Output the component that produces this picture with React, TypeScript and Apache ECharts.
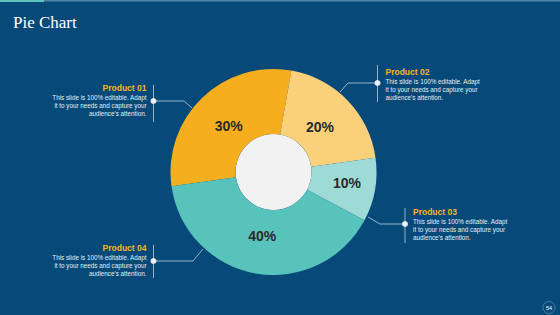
import React, { useEffect, useRef } from "react";
import * as echarts from "echarts";

const products = ["Product 01", "Product 02", "Product 03", "Product 04"];
const shares = [30, 20, 10, 40];
const sliceColors = ["#f5ae1d", "#fbd07b", "#9fdbd6", "#58c3bb"];
const description = "This slide is 100% editable. Adapt\nit to your needs and capture your\naudience's attention.";

const BG = "#074a7a";
const GOLD = "#f3b622";
const LINE = "#b8cfdf";

function annotation(
  title: string,
  side: "left" | "right",
  vx: number,
  vy0: number,
  vy1: number,
  dotY: number,
  titleY: number,
  leader: number[][]
) {
  const align = side === "left" ? "right" : "left";
  const tx = side === "left" ? vx - 7 : vx + 8;
  return [
    { type: "line", shape: { x1: vx, y1: vy0, x2: vx, y2: vy1 }, style: { stroke: LINE, lineWidth: 0.8 } },
    { type: "polyline", shape: { points: leader }, style: { stroke: LINE, lineWidth: 0.8, fill: null } },
    { type: "circle", shape: { cx: vx, cy: dotY, r: 3 }, style: { fill: "#e9eff5" } },
    {
      type: "text",
      x: tx,
      y: titleY,
      style: { text: title, fill: GOLD, font: "bold 8.5px 'Liberation Sans', Arial, sans-serif", align, verticalAlign: "middle" },
    },
    {
      type: "text",
      x: tx,
      y: titleY + 6,
      style: {
        text: description,
        fill: "#e6edf3",
        font: "6.3px 'Liberation Sans', Arial, sans-serif",
        lineHeight: 7.8,
        align,
        verticalAlign: "top",
      },
    },
  ];
}

export default function App() {
  const ref = useRef<HTMLDivElement>(null);
  useEffect(() => {
    if (!ref.current) return;
    const chart = echarts.init(ref.current, null, { renderer: "svg" });
    const cx = 273.5;
    const cy = 172;
    const data = products.map((name, i) => ({ name, value: shares[i], itemStyle: { color: sliceColors[i] } }));
    chart.setOption({
      animation: false,
      backgroundColor: BG,
      graphic: [
        { type: "rect", shape: { x: 0, y: 0, width: 560, height: 1.5 }, style: { fill: "#4f84a8" } },
        { type: "rect", shape: { x: 0, y: 0, width: 44, height: 2 }, style: { fill: "#5fc3c0" } },
        {
          type: "text",
          x: 13,
          y: 22,
          style: { text: "Pie Chart", fill: "#ffffff", font: "17px 'Liberation Serif', 'Times New Roman', serif", verticalAlign: "middle" },
        },
        { type: "circle", shape: { cx, cy, r: 38 }, style: { fill: "#f2f2f2" } },
        ...annotation("Product 01", "left", 153.5, 85, 122, 101, 88, [[153, 101], [184, 101], [192, 108]]),
        ...annotation("Product 02", "right", 377.5, 65, 102, 83, 72, [[378, 83], [348, 83], [340, 92]]),
        ...annotation("Product 03", "right", 405, 208, 243, 224, 212, [[405, 224], [380, 224], [368, 217]]),
        ...annotation("Product 04", "left", 153.5, 245, 278, 261, 248, [[153, 261], [193, 261], [203, 249]]),
        { type: "circle", shape: { cx: 549, cy: 307.5, r: 6 }, style: { fill: "none", stroke: "#5b87a8", lineWidth: 0.8 } },
        {
          type: "text",
          x: 549,
          y: 307.5,
          style: { text: "54", fill: "#ffffff", font: "5.5px 'Liberation Sans', Arial, sans-serif", align: "center", verticalAlign: "middle" },
        },
      ],
      series: [
        {
          type: "pie",
          center: [cx, cy],
          radius: [38, 103],
          startAngle: 188,
          clockwise: true,
          label: { show: false },
          labelLine: { show: false },
          itemStyle: { borderWidth: 0 },
          emphasis: { disabled: true },
          data,
        },
        {
          type: "pie",
          center: [cx, cy],
          radius: [28, 95],
          startAngle: 188,
          clockwise: true,
          silent: true,
          z: 5,
          label: {
            show: true,
            position: "inside",
            formatter: "{c}%",
            color: "#2a2a2a",
            fontSize: 14,
            fontWeight: "bold",
            fontFamily: "'Liberation Sans', Arial, sans-serif",
          },
          labelLine: { show: false },
          itemStyle: { color: "rgba(0,0,0,0)", borderWidth: 0 },
          emphasis: { disabled: true },
          data: products.map((name, i) => ({
            name,
            value: shares[i],
            label: i === 2 ? { offset: [10, 0] } : undefined,
          })),
        },
      ],
    });
    return () => chart.dispose();
  }, []);
  return <div ref={ref} style={{ position: "fixed", left: 0, top: 0, width: 560, height: 315 }} />;
}
